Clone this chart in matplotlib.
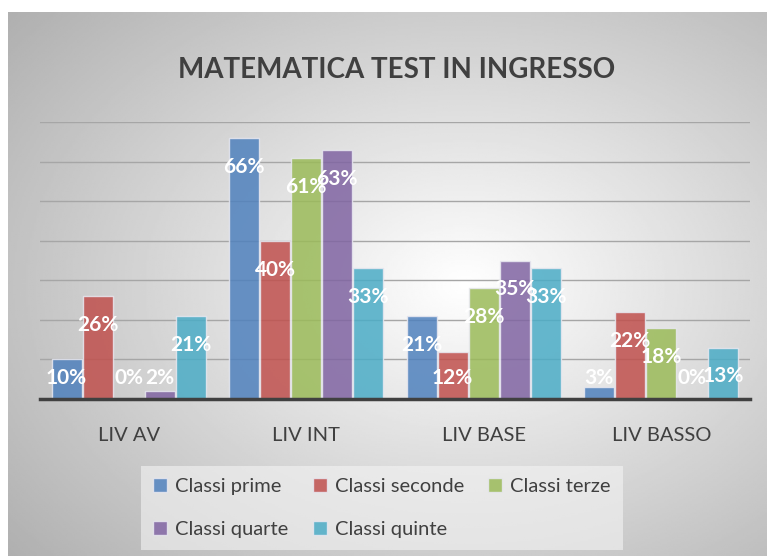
import numpy as np
import matplotlib.pyplot as plt

categories = ['LIV AV', 'LIV INT', 'LIV BASE', 'LIV BASSO']
series = ['Classi prime', 'Classi seconde', 'Classi terze', 'Classi quarte', 'Classi quinte']
values = [
    [10, 66, 21, 3],   # prime
    [26, 40, 12, 22],  # seconde
    [0, 61, 28, 18],   # terze
    [2, 63, 35, 0],    # quarte
    [21, 33, 33, 13],  # quinte
]
colors = ['#4F81BD', '#C0504D', '#9BBB59', '#8064A2', '#4BACC6']

W, H = 767, 556
fig = plt.figure(figsize=(W / 100, H / 100), dpi=100)
fig.patch.set_facecolor('white')

# radial gradient background of the chart frame
bg = fig.add_axes([8 / W, 0, 1 - 8 / W, (H - 12) / H])
yy, xx = np.mgrid[0:300, 0:400]
cx, cy = 0.6 * 400, 0.5 * 300
r = np.sqrt(((xx - cx) / 400) ** 2 + ((yy - cy) / 300) ** 2)
shade = np.clip(1.0 - 0.4 * r, 0, 1)
bg.imshow(shade, cmap='gray', vmin=0, vmax=1, aspect='auto',
          extent=[0, 1, 0, 1], origin='upper')
bg.set_axis_off()

ax = fig.add_axes([40 / W, (H - 399) / H, 710 / W, (399 - 122) / H])
ax.patch.set_alpha(0)

x = np.arange(len(categories))
bw = 0.175
for i, (name, vals) in enumerate(zip(series, values)):
    pos = x + (i - 2) * bw
    ax.bar(pos, vals, width=bw * 0.97, color=colors[i], alpha=0.85,
           edgecolor='#e8e8f0', linewidth=1, label=name, zorder=3)
    for p, v in zip(pos, vals):
        ax.text(p, max(v - 7.3, 5.4), f'{v}%', ha='center', va='center',
                color='white', fontsize=15, fontweight='bold',
                family='Lato', zorder=4)

ax.set_ylim(0, 70)
ax.set_xlim(-0.5, 3.5)
ax.set_yticks(np.arange(0, 71, 10))
ax.yaxis.grid(True, color='#a6a6a6', linewidth=1, zorder=0)
ax.tick_params(axis='y', left=False, labelleft=False)
ax.tick_params(axis='x', length=0, pad=20, labelsize=14.5, labelcolor='#404040')
ax.set_xticks(x)
ax.set_xticklabels(categories, family='Lato')
for s in ['top', 'right', 'left']:
    ax.spines[s].set_visible(False)
ax.spines['bottom'].set_color('#404040')
ax.spines['bottom'].set_linewidth(2.5)
ax.spines['bottom'].set_zorder(5)

fig.text(397 / W, 1 - 70 / H, 'MATEMATICA TEST IN INGRESSO', ha='center', va='center',
         fontsize=20, fontweight='bold', color='#404040', family='Lato')

handles, labels = ax.get_legend_handles_labels()
order = [0, 3, 1, 4, 2]
leg = fig.legend([handles[k] for k in order], [labels[k] for k in order],
                 ncol=3, loc='center', bbox_to_anchor=(382 / W, 1 - 508 / H),
                 frameon=True, fancybox=False, handlelength=0.7,
                 handleheight=0.7, handletextpad=0.4, columnspacing=1.2,
                 labelspacing=1.3, borderpad=0.6,
                 prop={'family': 'Lato', 'size': 14.5})
leg.get_frame().set_facecolor('#f4f4f4')
leg.get_frame().set_edgecolor('none')
leg.get_frame().set_alpha(0.6)
for t in leg.get_texts():
    t.set_color('#404040')

fig.savefig('out.png', dpi=100)
